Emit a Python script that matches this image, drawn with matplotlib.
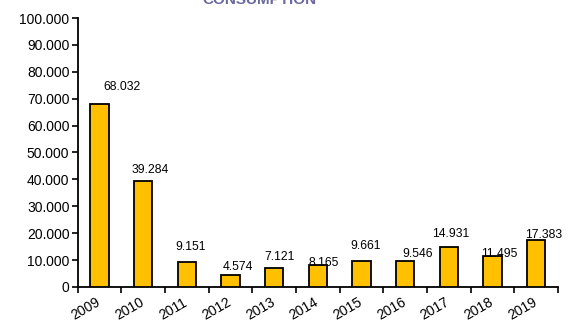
import matplotlib.pyplot as plt
import matplotlib.transforms as mtransforms
from matplotlib.ticker import FuncFormatter

years = ['2009', '2010', '2011', '2012', '2013', '2014', '2015', '2016', '2017', '2018', '2019']
consumption = [68032, 39284, 9151, 4574, 7121, 8165, 9661, 9546, 14931, 11495, 17383]
value_labels = ['68.032', '39.284', '9.151', '4.574', '7.121', '8.165',
                '9.661', '9.546', '14.931', '11.495', '17.383']

# label nudges (points) so the numbers sit like the original sheet
label_dx = [16, 5, 3, 5, 3.6, 4.3, 3, 8.6, 1.4, 5, 5]
label_dy = [8, 3.6, 6.5, 1.5, 3.6, -3, 6.5, 0.7, 5, -3, -0.7]

plt.rcParams['font.family'] = ['Liberation Sans', 'DejaVu Sans']

fig = plt.figure(figsize=(5.76, 3.22), dpi=100)
ax = fig.add_axes([0.135, 0.109, 0.834, 0.835])

x = list(range(len(years)))
bars = ax.bar(x, consumption, width=0.42, color='#FFC000',
              edgecolor='black', linewidth=1.3, zorder=3)

for b, txt, dx, dy in zip(bars, value_labels, label_dx, label_dy):
    ax.annotate(txt, (b.get_x() + b.get_width() / 2, b.get_height()),
                xytext=(dx, dy), textcoords='offset points',
                ha='center', va='bottom', fontsize=8.7, zorder=4)

ax.set_xlim(-0.5, len(years) - 0.5)
ax.set_ylim(0, 100000)
ax.set_yticks(range(0, 100001, 10000))
ax.yaxis.set_major_formatter(FuncFormatter(
    lambda v, p: '0' if v == 0 else f'{int(v):,}'.replace(',', '.')))

# ticks between the categories, year labels under the bars
ax.set_xticks([i - 0.5 for i in range(len(years) + 1)])
ax.set_xticklabels([])
ax.set_xticks(x, minor=True)
ax.set_xticklabels(years, minor=True, rotation=30, ha='right',
                   rotation_mode='anchor', fontsize=10)
ax.tick_params(axis='x', which='minor', length=0, pad=6)
ax.tick_params(axis='x', which='major', length=4, width=1.2, direction='out')
ax.tick_params(axis='y', length=4, width=1.2, labelsize=10, pad=2)

# pull the year labels a little to the left
shift = mtransforms.ScaledTranslation(-3 / 72, 0, fig.dpi_scale_trans)
for lbl in ax.get_xticklabels(minor=True):
    lbl.set_transform(lbl.get_transform() + shift)

for side in ['top', 'right']:
    ax.spines[side].set_visible(False)
for side in ['left', 'bottom']:
    ax.spines[side].set_linewidth(1.3)

fig.text(0.45, 0.987, 'CONSUMPTION', ha='center', va='baseline',
         fontsize=11, fontweight='bold', color='#6A6A9E')

fig.savefig('out.png', dpi=100)
